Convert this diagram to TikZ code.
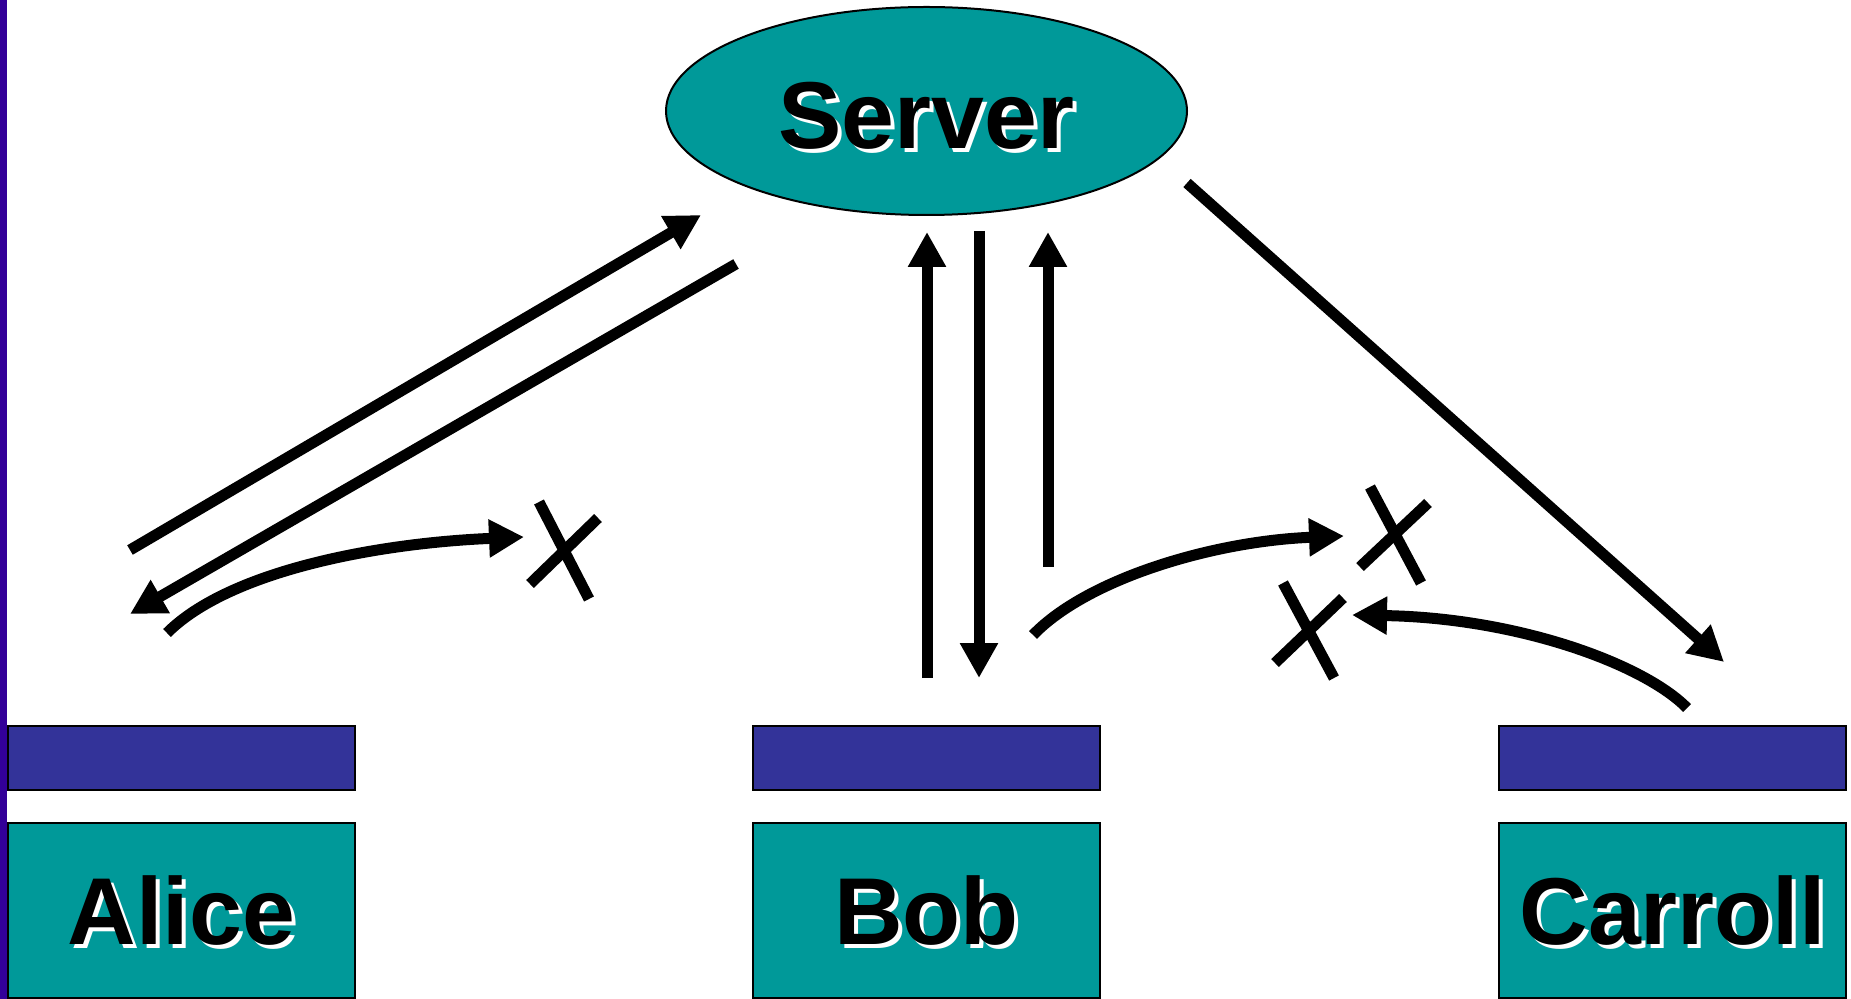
\documentclass[tikz,border=0pt]{standalone}
\usepackage{fontspec}
\setmainfont{Liberation Sans}
\usetikzlibrary{arrows.meta,shapes.geometric}

\definecolor{hostteal}{HTML}{009999}
\definecolor{barblue}{HTML}{333399}
\definecolor{edgeviolet}{HTML}{330099}

% black label with a white drop shadow to the lower right
\newcommand\shadowed[1]{\rlap{\kern2pt\raisebox{-2pt}{\color{white}#1}}#1}

\begin{document}
\begin{tikzpicture}[x=0.5pt,y=-0.5pt,
  label font/.style={font=\bfseries\fontsize{47.5}{50}\selectfont},
  server/.style={ellipse,draw,line width=1pt,fill=hostteal,inner sep=0pt,
    minimum width=260.5pt,minimum height=104pt,label font,
    text height=37.5pt,text depth=0pt},
  hostbox/.style={rectangle,draw,line width=1pt,fill=hostteal,inner sep=0pt,
    minimum width=173.5pt,minimum height=87.5pt,label font,
    text height=33.5pt,text depth=0pt},
  hostbar/.style={rectangle,draw,line width=1pt,fill=barblue,inner sep=0pt,
    minimum width=173.5pt,minimum height=32pt},
  msg/.style={line width=5.5pt,-{Triangle[length=17.5pt,width=18pt]}},
  stroke/.style={line width=5.5pt}]

\useasboundingbox (0,0) rectangle (1851,999);

% left edge rule
\fill[edgeviolet] (0,0) rectangle (7,999);

% server and the three hosts
\node[server] (server) at (926.5,111) {\shadowed{Server}};

\node[hostbar] (alicebar)   at (181.5,758)  {};
\node[hostbar] (bobbar)     at (926.5,758)  {};
\node[hostbar] (carrollbar) at (1672.5,758) {};

\node[hostbox] (alice)   at (181.5,910.5)  {\shadowed{Alice}};
\node[hostbox] (bob)     at (926.5,910.5)  {\shadowed{Bob}};
\node[hostbox] (carroll) at (1672.5,910.5) {\shadowed{Carroll}};

% message end points
\coordinate (aup0)  at (130,550);
\coordinate (aup1)  at (701,215);
\coordinate (adn0)  at (736,264);
\coordinate (adn1)  at (130,614);
\coordinate (bup0)  at (927,678);
\coordinate (bup1)  at (927,232);
\coordinate (bdn0)  at (979,231);
\coordinate (bdn1)  at (979,678);
\coordinate (bre0)  at (1048,567);
\coordinate (bre1)  at (1048,232);
\coordinate (cdn0)  at (1187,183);
\coordinate (cdn1)  at (1724,662);

% direct messages between hosts
\coordinate (ab0) at (167,633);
\coordinate (ab1) at (524,537);
\coordinate (bc0) at (1033,635);
\coordinate (bc1) at (1344,536);
\coordinate (cb0) at (1687,708);
\coordinate (cb1) at (1352,615);

% crosses blocking the direct messages
\coordinate (x1a) at (539,502);  \coordinate (x1b) at (589,599);
\coordinate (x1c) at (598,518);  \coordinate (x1d) at (530,584);
\coordinate (x2a) at (1370,487); \coordinate (x2b) at (1421,583);
\coordinate (x2c) at (1428,503); \coordinate (x2d) at (1360,567);
\coordinate (x3a) at (1283,583); \coordinate (x3b) at (1334,678);
\coordinate (x3c) at (1343,598); \coordinate (x3d) at (1275,663);

% server traffic
\draw[msg] (aup0) -- (aup1);
\draw[msg] (adn0) -- (adn1);
\draw[msg] (bup0) -- (bup1);
\draw[msg] (bdn0) -- (bdn1);
\draw[msg] (bre0) -- (bre1);
\draw[msg] (cdn0) -- (cdn1);

% attempted host-to-host traffic
\draw[msg] (ab0) .. controls (230,570) and (380,543) .. (ab1);
\draw[msg] (bc0) .. controls (1088,578) and (1215,541) .. (bc1);
\draw[msg] (cb0) .. controls (1645,665) and (1520,618) .. (cb1);

\draw[stroke] (x1a) -- (x1b);
\draw[stroke] (x1c) -- (x1d);
\draw[stroke] (x2a) -- (x2b);
\draw[stroke] (x2c) -- (x2d);
\draw[stroke] (x3a) -- (x3b);
\draw[stroke] (x3c) -- (x3d);

\end{tikzpicture}
\end{document}
